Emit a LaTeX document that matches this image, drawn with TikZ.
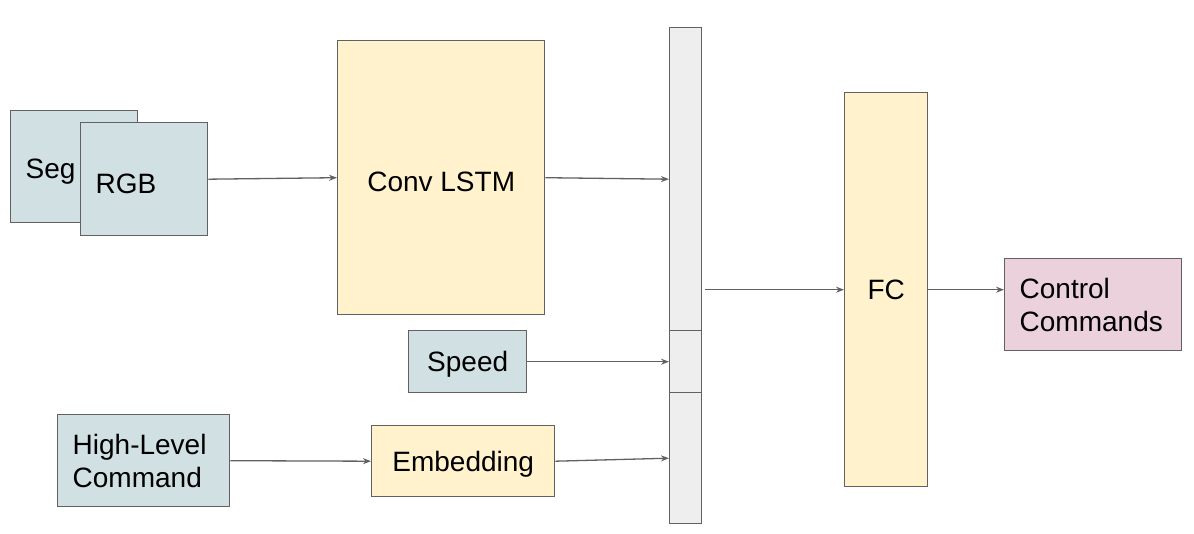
\documentclass[tikz,border=0pt]{standalone}
\usepackage{fontspec}
\setmainfont{Liberation Sans}
\usetikzlibrary{arrows.meta,calc}
\definecolor{bluegray}{HTML}{D0E0E3}
\definecolor{paleyellow}{HTML}{FFF2CC}
\definecolor{palepink}{HTML}{EAD1DC}
\definecolor{barfill}{HTML}{EEEEEE}
\definecolor{edge}{HTML}{616161}
\newcommand{\dropby}[2]{\raisebox{-#1}[\height][\depth]{#2}}
\tikzset{
  box/.style={draw=edge, line width=1.4pt, rectangle, anchor=north west, inner sep=0pt,
    font=\fontsize{28}{33}\selectfont},
  blue/.style={box, fill=bluegray},
  yell/.style={box, fill=paleyellow},
  pink/.style={box, fill=palepink},
  barbox/.style={box, fill=barfill, minimum width=32pt},
  arr/.style={draw=edge, line width=1.3pt, -{Stealth[length=8pt,width=6pt]}},
}
\begin{document}
\begin{tikzpicture}[x=1pt,y=-1pt]
\useasboundingbox (0,0) rectangle (1194,534);
% Seg and RGB
\node[blue, minimum width=127pt, minimum height=112pt, text width=97pt, align=left, inner xsep=15pt] (seg) at (10,110) {\dropby{5pt}{Seg}};
\node[blue, minimum width=127pt, minimum height=113pt, text width=97pt, align=left, inner xsep=15pt] (rgb) at (80,122) {\dropby{5pt}{RGB}};
% Conv LSTM
\node[yell, minimum width=207pt, minimum height=274pt] (conv) at (337,40) {\dropby{4pt}{Conv LSTM}};
% Speed
\node[blue, minimum width=118pt, minimum height=62pt] (speed) at (408,330) {\dropby{3pt}{Speed}};
% High-level command
\node[blue, minimum width=172pt, minimum height=92pt, text width=142pt, align=left, inner xsep=15pt] (hlc) at (57,414) {High-Level\\Command};
% Embedding
\node[yell, minimum width=183pt, minimum height=71pt] (emb) at (371,425) {\dropby{3pt}{Embedding}};
% concatenation bar
\node[barbox, minimum height=303pt] (bartop) at (669,27) {};
\node[barbox, minimum height=62pt] (barmid) at (669,330) {};
\node[barbox, minimum height=131pt] (barbot) at (669,392) {};
% FC
\node[yell, minimum width=83pt, minimum height=394pt] (fc) at (844,92) {FC};
% Control commands
\node[pink, minimum width=177pt, minimum height=92pt, text width=147pt, align=left, inner xsep=14pt] (ctrl) at (1004,258) {Control\\Commands};
% connectors
\draw[arr] (rgb.east) -- (conv.west);
\draw[arr] (conv.east) -- (bartop.west);
\draw[arr] (speed.east) -- (barmid.west);
\draw[arr] (hlc.east) -- (emb.west);
\draw[arr] (emb.east) -- (barbot.west);
\draw[arr] ([xshift=3pt]bartop.east |- fc.west) -- (fc.west);
\draw[arr] (fc.east) -- (ctrl.west |- fc.east);
\end{tikzpicture}
\end{document}
